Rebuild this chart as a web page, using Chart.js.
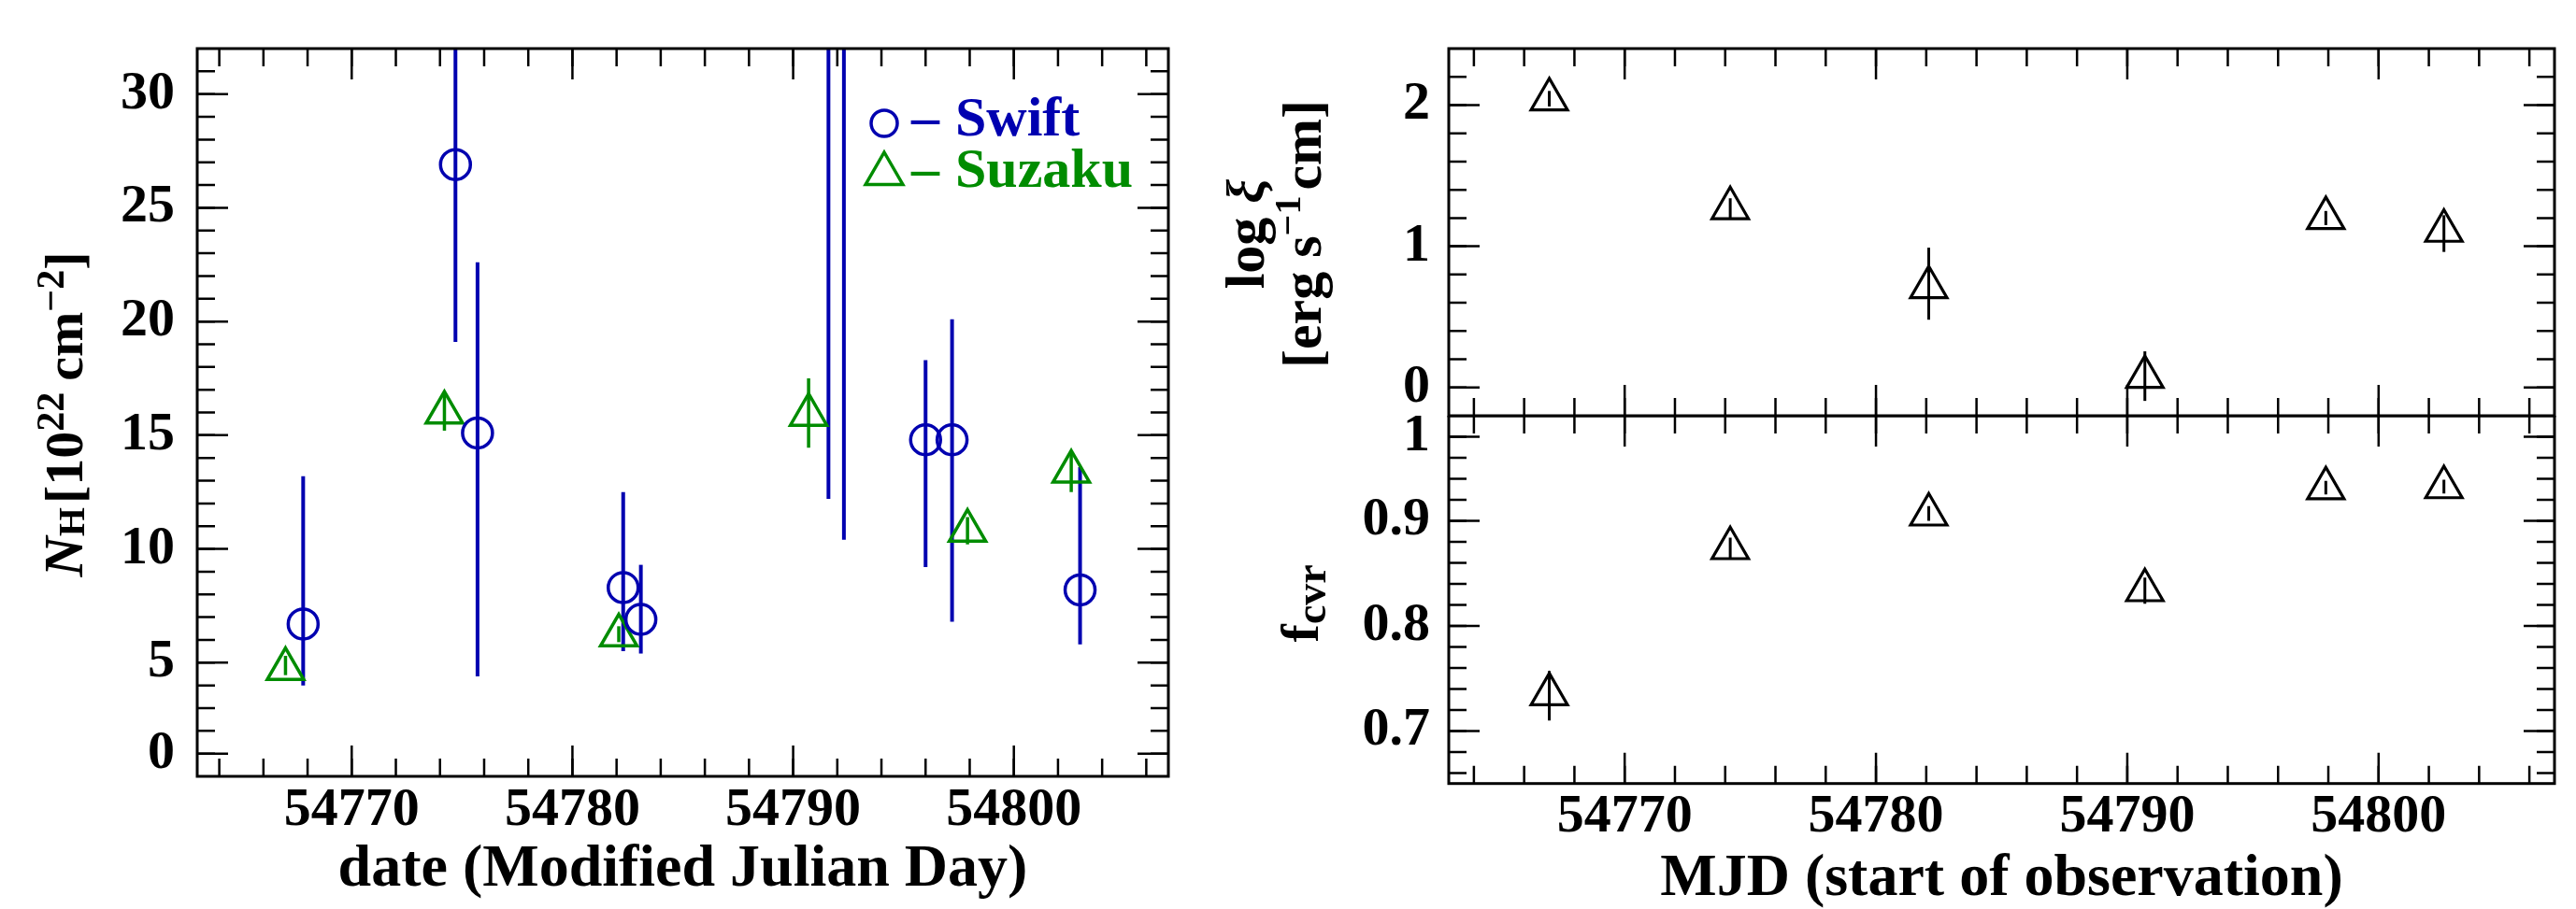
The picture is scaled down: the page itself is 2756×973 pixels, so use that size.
<!DOCTYPE html>
<html>
<head>
<meta charset="utf-8">
<title>N_H, log xi and f_cvr against MJD</title>
<script src="https://cdn.jsdelivr.net/npm/chart.js@4.4.1/dist/chart.umd.min.js"></script>
<style>
  html, body { margin: 0; padding: 0; background: #fff; }
  #page { position: relative; width: 2756px; height: 973px; overflow: hidden; background: #fff; }
  canvas { position: absolute; }
</style>
</head>
<body>
<div id="page">
  <canvas id="nhChart" width="1290" height="973" style="left:0;top:0"></canvas>
  <canvas id="xiChart" width="1466" height="448" style="left:1290px;top:0"></canvas>
  <canvas id="fcvrChart" width="1466" height="528" style="left:1290px;top:445px"></canvas>
</div>
<script>
//#####################
// Values
//#####################
const swiftMJD = [54767.8, 54774.7, 54775.7, 54782.3, 54783.1, 54791.6, 54792.3, 54796.0, 54797.2, 54803.0];
const swiftNH  = [6.7, 26.9, 15.1, 8.3, 6.9, 40, 42, 14.8, 14.8, 8.2];
const swiftLo  = [4.0, 19.1, 4.4, 5.5, 5.4, 12.2, 10.4, 9.2, 6.8, 5.8];
const swiftHi  = [13.2, 36, 22.6, 12.5, 9.3, 70, 74, 18.3, 20.1, 13.6];

const suzakuMJD = [54767.0, 54774.2, 54782.1, 54790.7, 54797.9, 54802.6];
const suzakuNH  = [4.72, 16.0, 6.2, 15.9, 10.8, 13.4];
const suzakuLo  = [4.45, 15.2, 5.9, 14.45, 10.2, 12.5];
const suzakuHi  = [5.3, 16.8, 6.6, 17.5, 11.4, 14.2];

const logXi   = [2.04, 1.27, 0.71, 0.075, 1.2, 1.11];
const logXiLo = [1.99, 1.2, 0.48, -0.095, 1.15, 0.96];
const logXiHi = [2.1, 1.34, 0.99, 0.256, 1.25, 1.22];

const fCvr   = [0.735, 0.874, 0.906, 0.834, 0.931, 0.932];
const fCvrLo = [0.710, 0.864, 0.900, 0.821, 0.925, 0.926];
const fCvrHi = [0.757, 0.884, 0.914, 0.846, 0.938, 0.939];

// tick positions and labels
const mjdTicks = [54770, 54780, 54790, 54800];
const mjdTickLabels = ['54770', '54780', '54790', '54800'];
const nhTicks = [1, 5, 10, 15, 20, 25, 30];
const nhTickLabels = ['0', '5', '10', '15', '20', '25', '30'];
const xiTicks = [0, 1, 2];
const xiTickLabels = ['0', '1', '2'];
const fCvrTicks = [0.7, 0.8, 0.9, 0.98];
const fCvrTickLabels = ['0.7', '0.8', '0.9', '1'];

const BLUE = '#0000b0';
const GREEN = '#008c00';
const FONT = 'Liberation Serif';

Chart.defaults.font.family = FONT;
Chart.defaults.font.weight = 'bold';
Chart.defaults.color = '#000';

const toPoints = (xs, ys) => xs.map((x, i) => ({x: x, y: ys[i]}));
const steps = (a, b, d) => {
    const out = [];
    for (let v = a; v <= b + d / 1000; v += d) out.push(+v.toFixed(4));
    return out;
};
const mjdMinor = steps(54764, 54806, 2);

//#####################
// Plugins: inward ticks + frame, error bars, rotated titles
//#####################
const frameTicks = (xMajor, xMinor, yMajor, yMinor) => ({
    id: 'frameTicks',
    afterDraw(chart) {
        const {ctx, chartArea: a, scales: {x, y}} = chart;
        ctx.save();
        ctx.strokeStyle = '#000';
        ctx.lineWidth = 2.5;
        const marks = (vals, len, horiz) => vals.forEach(v => {
            ctx.beginPath();
            if (horiz) {
                const px = x.getPixelForValue(v);
                if (px <= a.left + 1 || px >= a.right - 1) return;
                ctx.moveTo(px, a.bottom); ctx.lineTo(px, a.bottom - len);
                ctx.moveTo(px, a.top); ctx.lineTo(px, a.top + len);
            } else {
                const py = y.getPixelForValue(v);
                if (py <= a.top + 1 || py >= a.bottom - 1) return;
                ctx.moveTo(a.left, py); ctx.lineTo(a.left + len, py);
                ctx.moveTo(a.right, py); ctx.lineTo(a.right - len, py);
            }
            ctx.stroke();
        });
        marks(xMinor, 19, true);
        marks(xMajor, 33, true);
        marks(yMinor, 19, false);
        marks(yMajor, 33, false);
        ctx.lineWidth = 3;
        ctx.strokeRect(a.left, a.top, a.right - a.left, a.bottom - a.top);
        ctx.restore();
    }
});

const errorBars = {
    id: 'errorBars',
    beforeDatasetsDraw(chart) {
        const {ctx, chartArea: a, scales: {x, y}} = chart;
        ctx.save();
        ctx.beginPath();
        ctx.rect(a.left, a.top, a.right - a.left, a.bottom - a.top);
        ctx.clip();
        chart.data.datasets.forEach(ds => {
            ctx.strokeStyle = ds.pointBorderColor;
            ctx.lineWidth = ds.errWidth;
            ds.data.forEach((p, i) => {
                const px = x.getPixelForValue(p.x);
                ctx.beginPath();
                ctx.moveTo(px, y.getPixelForValue(ds.errLo[i]));
                ctx.lineTo(px, y.getPixelForValue(ds.errHi[i]));
                ctx.stroke();
            });
        });
        ctx.restore();
    }
};

// each line: {dx from chart left, dy from chart middle, parts:[{t, s, it, dy, gap}]}
const sideTitle = (lines) => ({
    id: 'sideTitle',
    afterDraw(chart) {
        const {ctx, chartArea: a} = chart;
        const fontOf = p => (p.it ? 'italic ' : '') + 'bold ' + p.s + 'px "' + FONT + '"';
        lines.forEach(line => {
            ctx.save();
            ctx.translate(a.left + line.dx, (a.top + a.bottom) / 2 + line.dy);
            ctx.rotate(-Math.PI / 2);
            ctx.fillStyle = '#000';
            ctx.textAlign = 'left';
            ctx.textBaseline = 'alphabetic';
            let total = 0;
            line.parts.forEach(p => {
                ctx.font = fontOf(p);
                p.w = ctx.measureText(p.t).width;
                total += p.w + (p.gap || 0);
            });
            let pos = -total / 2;
            line.parts.forEach(p => {
                ctx.font = fontOf(p);
                ctx.fillText(p.t, pos, p.dy || 0);
                pos += p.w + (p.gap || 0);
            });
            ctx.restore();
        });
    }
});

// key in the upper right of the N_H panel
const sourceKey = {
    id: 'sourceKey',
    afterDraw(chart) {
        const {ctx, chartArea: a} = chart;
        const rows = [
            {ds: chart.data.datasets[0], my: 80, ty: 93, r: 14},
            {ds: chart.data.datasets[1], my: 134, ty: 148, r: 23}
        ];
        rows.forEach(row => {
            const cx = a.right - 304, cy = a.top + row.my;
            ctx.save();
            ctx.strokeStyle = row.ds.pointBorderColor;
            ctx.fillStyle = row.ds.pointBorderColor;
            ctx.lineWidth = 3.5;
            ctx.beginPath();
            if (row.ds.pointStyle === 'circle') {
                ctx.arc(cx, cy, row.r, 0, Math.PI * 2);
            } else {
                ctx.moveTo(cx, cy - row.r);
                ctx.lineTo(cx + 0.866 * row.r, cy + 0.5 * row.r);
                ctx.lineTo(cx - 0.866 * row.r, cy + 0.5 * row.r);
                ctx.closePath();
            }
            ctx.stroke();
            ctx.font = 'bold 60px "' + FONT + '"';
            ctx.textBaseline = 'alphabetic';
            ctx.fillText('\u2013', a.right - 275, a.top + row.ty);
            ctx.fillText(row.ds.label, a.right - 228, a.top + row.ty);
            ctx.restore();
        });
    }
};

const tickFont = {family: FONT, size: 58, weight: 'bold'};
const titleFont = {family: FONT, size: 64, weight: 'bold', lineHeight: 1};
const fixedTicks = (vals) => (s) => { s.ticks = vals.map(v => ({value: v})); };
// fixed axis box size; drop the label overhang padding so the plot area stays put
const fixX = (h) => (s) => { s.height = h; s.paddingLeft = 0; s.paddingRight = 0; };
const fixY = (w) => (s) => { s.width = w; s.paddingTop = 0; s.paddingBottom = 0; };
const noGrid = {display: false, drawTicks: false};

//#####################
// Left panel: N_H
//#####################
new Chart(document.getElementById('nhChart'), {
    type: 'scatter',
    data: {
        datasets: [
            {
                label: 'Swift',
                data: toPoints(swiftMJD, swiftNH),
                errLo: swiftLo, errHi: swiftHi, errWidth: 4,
                pointStyle: 'circle', pointRadius: 16,
                pointBorderColor: BLUE, pointBorderWidth: 3.5,
                pointBackgroundColor: 'rgba(0,0,0,0)',
                clip: 0
            },
            {
                label: 'Suzaku',
                data: toPoints(suzakuMJD, suzakuNH),
                errLo: suzakuLo, errHi: suzakuHi, errWidth: 3.5,
                pointStyle: 'triangle', pointRadius: 22.5,
                pointBorderColor: GREEN, pointBorderWidth: 3.5,
                pointBackgroundColor: 'rgba(0,0,0,0)',
                clip: 0
            }
        ]
    },
    options: {
        responsive: false,
        animation: false,
        events: [],
        layout: {autoPadding: false, padding: {top: 52, right: 40, bottom: 0, left: 0}},
        plugins: {legend: {display: false}, tooltip: {enabled: false}},
        scales: {
            x: {
                type: 'linear', min: 54763, max: 54807,
                grid: noGrid, border: {display: false},
                afterBuildTicks: fixedTicks(mjdTicks),
                afterFit: fixX(142),
                ticks: {font: tickFont, padding: 2, autoSkip: false, maxRotation: 0,
                        callback: (v, i) => mjdTickLabels[i]},
                title: {display: true, text: 'date (Modified Julian Day)', font: titleFont,
                        padding: {top: 0, bottom: 10}}
            },
            y: {
                min: 0, max: 32,
                grid: noGrid, border: {display: false},
                afterBuildTicks: fixedTicks(nhTicks),
                afterFit: fixY(211),
                ticks: {font: tickFont, padding: 24, autoSkip: false,
                        callback: (v, i) => nhTickLabels[i]}
            }
        }
    },
    plugins: [
        errorBars,
        frameTicks(mjdTicks, mjdMinor, nhTicks, steps(1, 31, 1)),
        sideTitle([{dx: -123, dy: 2, parts: [
            {t: 'N', s: 60, it: true},
            {t: 'H', s: 40, dy: 2, gap: 4},
            {t: '[10', s: 58},
            {t: '22', s: 42, dy: -20, gap: 12},
            {t: 'cm', s: 58},
            {t: '\u22122', s: 42, dy: -20},
            {t: ']', s: 58}
        ]}]),
        sourceKey
    ]
});

//#####################
// Right top panel: log xi
//#####################
new Chart(document.getElementById('xiChart'), {
    type: 'scatter',
    data: {
        datasets: [{
            label: 'log xi',
            data: toPoints(suzakuMJD, logXi),
            errLo: logXiLo, errHi: logXiHi, errWidth: 3,
            pointStyle: 'triangle', pointRadius: 22.5,
            pointBorderColor: '#000', pointBorderWidth: 3.2,
            pointBackgroundColor: 'rgba(0,0,0,0)',
            clip: 0
        }]
    },
    options: {
        responsive: false,
        animation: false,
        events: [],
        layout: {autoPadding: false, padding: {top: 52, right: 23, bottom: 3, left: 0}},
        plugins: {legend: {display: false}, tooltip: {enabled: false}},
        scales: {
            x: {type: 'linear', min: 54763, max: 54807, display: false},
            y: {
                min: -0.2, max: 2.4,
                grid: noGrid, border: {display: false},
                afterBuildTicks: fixedTicks(xiTicks),
                afterFit: fixY(260),
                ticks: {font: tickFont, padding: 20, autoSkip: false,
                        callback: (v, i) => xiTickLabels[i]}
            }
        }
    },
    plugins: [
        errorBars,
        frameTicks(mjdTicks, mjdMinor, xiTicks, steps(-0.2, 2.4, 0.2)),
        sideTitle([
            {dx: -198, dy: 2, parts: [{t: 'log ', s: 60}, {t: '\u03be', s: 58, it: true}]},
            {dx: -137, dy: 2, parts: [
                {t: '[erg s', s: 60},
                {t: '\u22121', s: 40, dy: -22, gap: 6},
                {t: 'cm]', s: 60}
            ]}
        ])
    ]
});

//#####################
// Right bottom panel: covering fraction
//#####################
new Chart(document.getElementById('fcvrChart'), {
    type: 'scatter',
    data: {
        datasets: [{
            label: 'f_cvr',
            data: toPoints(suzakuMJD, fCvr),
            errLo: fCvrLo, errHi: fCvrHi, errWidth: 3,
            pointStyle: 'triangle', pointRadius: 22.5,
            pointBorderColor: '#000', pointBorderWidth: 3.2,
            pointBackgroundColor: 'rgba(0,0,0,0)',
            clip: 0
        }]
    },
    options: {
        responsive: false,
        animation: false,
        events: [],
        layout: {autoPadding: false, padding: {top: 0, right: 23, bottom: 0, left: 0}},
        plugins: {legend: {display: false}, tooltip: {enabled: false}},
        scales: {
            x: {
                type: 'linear', min: 54763, max: 54807,
                grid: noGrid, border: {display: false},
                afterBuildTicks: fixedTicks(mjdTicks),
                afterFit: fixX(134.3),
                ticks: {font: tickFont, padding: 2, autoSkip: false, maxRotation: 0,
                        callback: (v, i) => mjdTickLabels[i]},
                title: {display: true, text: 'MJD (start of observation)', font: titleFont,
                        padding: {top: 0, bottom: 0}}
            },
            y: {
                min: 0.65, max: 1.0,
                grid: noGrid, border: {display: false},
                afterBuildTicks: fixedTicks(fCvrTicks),
                afterFit: fixY(260),
                ticks: {font: tickFont, padding: 20, autoSkip: false,
                        callback: (v, i) => fCvrTickLabels[i]}
            }
        }
    },
    plugins: [
        errorBars,
        frameTicks(mjdTicks, mjdMinor, fCvrTicks, steps(0.66, 0.98, 0.02)),
        sideTitle([{dx: -140, dy: 4, parts: [{t: 'f', s: 58}, {t: 'cvr', s: 46, dy: 8}]}])
    ]
});
</script>
</body>
</html>
